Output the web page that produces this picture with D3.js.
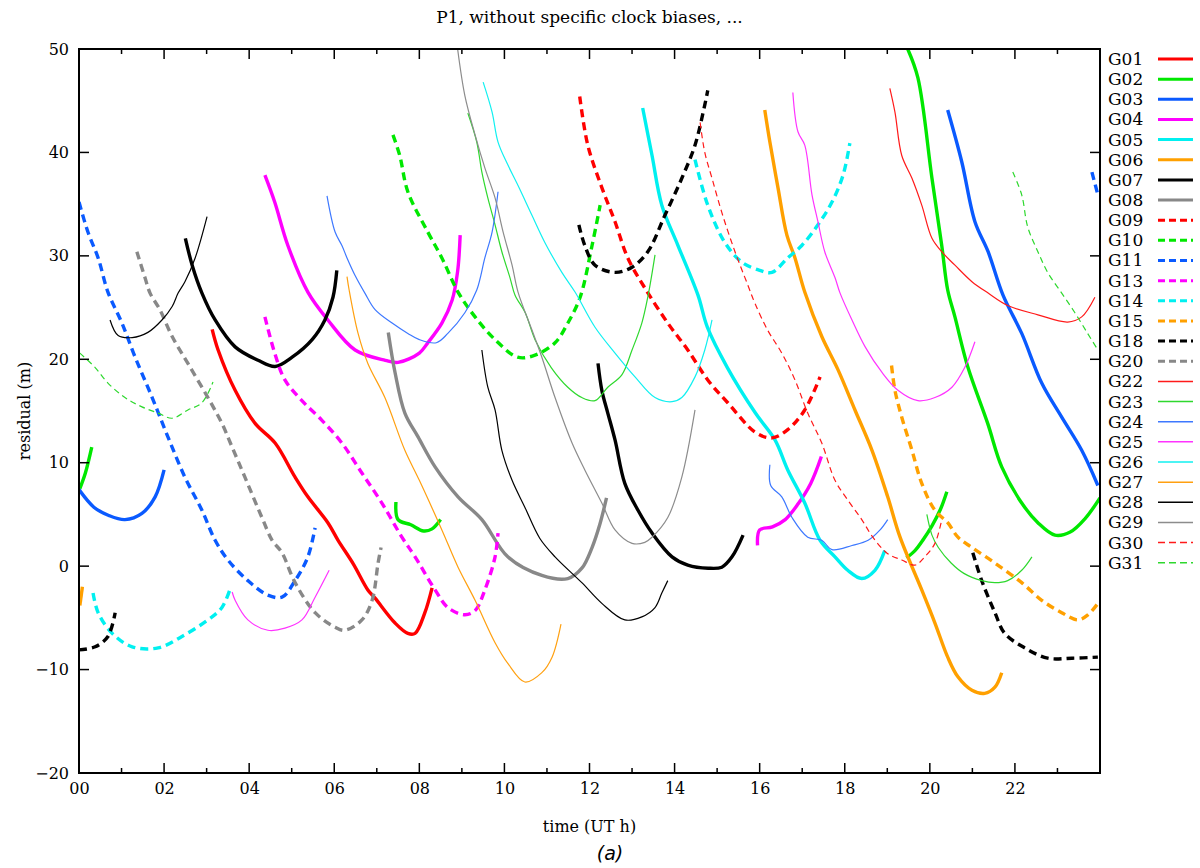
<!DOCTYPE html>
<html>
<head>
<meta charset="utf-8">
<script src="https://cdn.jsdelivr.net/npm/d3@7"></script>
<style>
  body { margin: 0; background: #fff; }
  svg { display: block; }
  text { font-family: "DejaVu Serif", serif; fill: #000; }
</style>
</head>
<body>
<div id="container"></div>
<script>
const width = 1200;
const height = 868;
const marginLeft = 79;   // plot box left edge
const marginRight = 100; // plot box ends at 1100
const marginTop = 49;
const marginBottom = 95; // plot box ends at 773

// hour of day, residual in metres; each satellite is a list of arcs
const G01 = [[[3.13,22.9],[3.27,20.9],[3.67,17.0],[4.14,13.8],[4.61,11.9],[5.08,8.6],[5.38,6.7],[5.85,4.2],[6.09,2.5],[6.45,0.2],[6.79,-2.3],[6.96,-3.1],[7.43,-5.5],[7.73,-6.5],[7.9,-6.5],[8.13,-4.5],[8.3,-2.1]]];
const G02 = [
  [[0.02,7.5],[0.15,9.0],[0.3,11.5]],
  [[7.45,6.2],[7.5,4.5],[7.8,4.0],[8.1,3.4],[8.3,3.6],[8.5,4.5]],
  [[19.48,50],[19.72,47.2],[20.05,37.5],[20.28,31.0],[20.42,26.7],[20.59,24.1],[20.89,19.3],[21.36,13.8],[21.69,9.6],[22.16,6.1],[22.54,4.2],[22.94,3.0],[23.3,3.3],[23.65,4.6],[24,6.6]],
  [[19.45,0.8],[19.65,1.5],[19.85,2.6],[20.05,3.9],[20.25,5.5],[20.4,7.2]]
];
const G03 = [
  [[0,7.4],[0.35,5.7],[0.7,4.9],[1.08,4.5],[1.48,5.1],[1.79,6.7],[2.0,9.3]],
  [[20.42,44.1],[20.75,39.1],[21.06,33.3],[21.37,30.4],[21.72,26.2],[22.16,22.5],[22.63,17.7],[23.1,14.4],[23.57,11.2],[23.95,7.8]]
];
const G04 = [
  [[4.37,37.8],[4.6,35.2],[4.91,31.0],[5.38,26.5],[5.85,23.8],[6.49,20.9],[7.2,19.9],[7.5,19.7],[8.0,20.6],[8.2,21.6],[8.53,23.5],[8.77,25.7],[8.9,28.5],[8.96,32.0]],
  [[15.95,2.0],[16.0,3.5],[16.3,3.8],[16.6,4.5],[16.9,6.0],[17.2,8.0],[17.45,10.6]]
];
const G05 = [[[13.25,44.3],[13.47,39.7],[13.7,34.9],[14.08,31.0],[14.55,26.2],[14.77,23.1],[15.24,19.2],[15.9,14.8],[16.36,12.2],[16.66,9.3],[17.06,6.1],[17.42,2.5],[17.77,0.9],[18.07,-0.4],[18.4,-1.2],[18.71,-0.4],[18.94,1.5]]];
const G06 = [
  [[0.02,-3.8],[0.08,-2.0]],
  [[16.12,44.1],[16.24,41],[16.43,36.6],[16.64,32.0],[16.83,29.8],[17.06,26.5],[17.46,22.2],[17.84,19.0],[18.24,15.1],[18.64,11.2],[19.01,6.7],[19.3,2.8],[19.81,-2.3],[20.12,-5.5],[20.42,-8.8],[20.66,-10.7],[20.99,-12],[21.29,-12.3],[21.53,-11.7],[21.69,-10.3]]
];
const G07 = [
  [[2.5,31.7],[2.66,29.1],[2.89,26.4],[3.2,23.8],[3.67,21.2],[4.21,19.9],[4.61,19.3],[5.01,20.2],[5.48,21.9],[5.78,23.8],[5.97,26.0],[6.06,28.6]],
  [[12.2,19.6],[12.29,17.0],[12.43,14.8],[12.6,12.2],[12.83,8.0],[13.14,5.4],[13.47,3.2],[13.94,0.9],[14.31,0.1],[14.79,-0.2],[15.11,-0.1],[15.35,0.9],[15.61,3.0]]
];
const G08 = [[[7.27,22.6],[7.43,18.7],[7.66,14.8],[7.97,12.5],[8.37,9.6],[8.91,6.7],[9.47,4.5],[10.08,0.9],[10.88,-0.9],[11.49,-1.2],[11.82,-0.2],[12.06,1.8],[12.24,4.0],[12.4,6.6]]];
const G09 = [[[11.77,45.4],[11.96,40.7],[12.29,36.6],[12.6,33.3],[12.9,29.8],[13.3,26.9],[13.84,23.5],[14.31,20.9],[14.78,18.0],[15.25,15.8],[15.91,12.9],[16.29,12.4],[16.66,13.2],[17.06,15.1],[17.42,18.3]]];
const G10 = [[[7.38,41.7],[7.54,39.7],[7.73,36.2],[8.2,32.3],[8.53,29.8],[8.91,26.5],[9.31,24.1],[9.78,21.9],[10.31,20.2],[10.72,20.4],[11.19,21.6],[11.49,23.5],[11.78,26.0],[12.06,31.0],[12.25,34.9]]];
const G11 = [
  [[0,35.2],[0.21,32.3],[0.45,29.8],[0.68,26.5],[1.01,23.5],[1.32,20.2],[1.72,16.3],[2.09,12.5],[2.49,8.6],[2.89,5.4],[3.2,2.5],[3.5,0.6],[3.97,-1.4],[4.44,-2.8],[4.77,-3.0],[5.08,-1.4],[5.38,0.9],[5.55,3.7]],
  [[23.81,38.1],[23.95,35.9]]
];
const G13 = [[[4.37,24.1],[4.6,20.6],[4.84,18.0],[5.24,16.0],[5.71,14.1],[6.18,11.9],[6.65,9.0],[7.12,6.1],[7.59,2.8],[7.9,0.9],[8.37,-2.3],[8.67,-4.0],[9.07,-4.7],[9.31,-4.3],[9.54,-2.3],[9.78,0.9],[9.85,3.2]]];
const G14 = [
  [[0.33,-2.6],[0.45,-4.5],[0.78,-6.5],[1.25,-7.8],[1.86,-7.9],[2.42,-6.8],[3.03,-5.2],[3.36,-4.0],[3.57,-2.0]],
  [[14.48,39.3],[14.78,34.9],[15.18,31.3],[15.58,29.4],[16.0,28.6],[16.29,28.4],[16.66,29.8],[16.99,31.0],[17.37,33.0],[17.7,35.2],[17.96,37.8],[18.12,40.9]]
];
const G15 = [[[19.1,19.4],[19.18,17.0],[19.34,14.4],[19.58,11.2],[19.81,8.0],[20.12,5.4],[20.42,4.2],[20.66,2.8],[20.99,1.8],[21.53,0.3],[22.16,-1.6],[22.63,-3.3],[23.1,-4.5],[23.48,-5.2],[23.72,-4.7],[23.95,-3.6]]];
const G18 = [
  [[0,-8.1],[0.38,-7.8],[0.68,-6.8],[0.85,-4.5]],
  [[11.75,33.0],[11.89,31.0],[12.13,29.1],[12.6,28.4],[13.0,28.9],[13.37,30.4],[13.77,33.9],[14.17,37.5],[14.48,40.7],[14.71,44.6],[14.78,46.0]],
  [[21.01,1.3],[21.22,-1.4],[21.53,-4.5],[21.76,-6.5],[22.23,-7.9],[22.77,-8.9],[23.34,-8.9],[23.95,-8.8]]
];
const G20 = [[[1.36,30.4],[1.55,27.9],[1.67,26.4],[1.9,24.8],[2.19,22.2],[2.56,19.6],[3.03,16.3],[3.36,13.8],[3.6,11.5],[3.9,8.6],[4.3,4.7],[4.54,2.5],[4.77,1.3],[5.08,-1.6],[5.55,-4.5],[6.02,-5.9],[6.25,-6.2],[6.65,-5.2],[6.89,-3.3],[7.03,0.3],[7.1,1.8]]];
const G22 = [[[19.06,46.2],[19.18,43.9],[19.34,39.7],[19.58,37.5],[19.81,34.9],[20.05,31.7],[20.28,30.4],[20.59,29.1],[20.99,27.5],[21.37,26.4],[21.83,25.2],[22.54,24.3],[23.24,23.6],[23.57,24.1],[23.88,26.0]]];
const G23 = [
  [[9.14,43.8],[9.35,41.0],[9.47,38.1],[9.61,35.6],[9.78,33.0],[9.94,30.4],[10.13,27.9],[10.25,26.2],[10.49,24.5],[10.72,21.9],[11.1,19.2],[11.49,17.3],[11.82,16.3],[12.13,16.0],[12.43,17.3],[12.76,18.5],[13.0,20.9],[13.23,23.5],[13.37,26.0],[13.54,30.1]],
  [[19.93,5.0],[20.05,3.0],[20.2,1.8],[20.5,0.3],[20.8,-0.7],[21.22,-1.4],[21.53,-1.6],[21.83,-1.4],[22.16,-0.4],[22.4,0.9]]
];
const G24 = [
  [[5.83,35.8],[6.02,32.3],[6.18,31.0],[6.3,29.8],[6.49,28.1],[6.72,26.4],[6.96,24.8],[7.36,23.5],[7.73,22.5],[8.0,21.9],[8.4,21.6],[8.67,22.5],[9.07,24.5],[9.35,26.7],[9.54,29.8],[9.71,32.3],[9.85,36.2]],
  [[16.24,9.8],[16.26,7.8],[16.52,6.7],[16.76,4.7],[17.13,2.8],[17.46,2.5],[17.7,1.6],[18.17,2.0],[18.55,2.5],[18.83,3.5],[19.01,4.5]]
];
const G25 = [
  [[3.6,-2.5],[3.67,-3.3],[3.97,-5.2],[4.44,-6.2],[4.84,-6.0],[5.24,-5.2],[5.55,-3.0],[5.88,-0.4]],
  [[16.78,45.8],[16.9,42.0],[17.06,40.7],[17.23,35.9],[17.37,33.3],[17.53,30.4],[17.77,27.9],[17.89,26.4],[18.17,23.8],[18.48,21.2],[18.88,18.7],[19.25,17.0],[19.72,16.0],[20.12,16.3],[20.52,17.3],[20.82,19.2],[21.06,21.7]]
];
const G26 = [[[9.5,46.8],[9.71,43.9],[9.85,41.0],[10.08,38.8],[10.32,36.8],[10.65,33.9],[10.95,31.3],[11.35,28.4],[11.66,26.5],[12.13,23.1],[12.6,20.6],[13.07,18.3],[13.54,16.3],[13.94,15.9],[14.17,16.3],[14.48,18.3],[14.71,20.9],[14.88,23.8]]];
const G27 = [[[6.3,28.0],[6.35,26.7],[6.56,22.5],[6.79,19.6],[7.19,16.3],[7.66,11.2],[8.0,8.3],[8.53,3.5],[8.91,-0.1],[9.31,-3.3],[9.78,-7.4],[10.08,-9.4],[10.48,-11.2],[10.88,-10.3],[11.12,-8.8],[11.33,-5.6]]];
const G28 = [
  [[0.73,23.8],[0.92,22.3],[1.25,22.1],[1.62,22.6],[1.95,23.8],[2.19,25.1],[2.33,26.4],[2.49,27.5],[2.73,29.8],[3.01,33.8]],
  [[9.47,20.9],[9.61,17.3],[9.78,15.1],[9.94,11.2],[10.18,8.3],[10.48,5.7],[10.83,2.7],[11.19,0.9],[11.82,-1.6],[12.29,-3.6],[12.83,-5.2],[13.23,-4.9],[13.54,-4.0],[13.7,-2.6],[13.84,-1.4]]
];
const G29 = [[[8.9,50],[9.07,45.5],[9.31,41.7],[9.54,38.5],[9.78,35.6],[9.97,32.3],[10.18,29.1],[10.32,26.5],[10.65,22.8],[10.88,20.2],[11.19,16.3],[11.59,11.9],[11.89,9.3],[12.29,6.1],[12.6,3.5],[13.0,2.2],[13.3,2.3],[13.47,2.8],[13.84,4.7],[14.17,8.6],[14.48,15.1]]];
const G30 = [[[14.6,42.9],[14.71,40.0],[14.88,37.5],[15.11,34.2],[15.42,30.4],[15.72,27.2],[15.89,25.4],[16.19,22.8],[16.52,20.6],[16.83,18.0],[17.13,14.8],[17.46,11.9],[17.77,8.3],[18.07,6.4],[18.4,4.5],[18.66,2.8],[19.01,1.2],[19.34,0.6],[19.65,0.1],[19.88,0.9],[20.12,2.2],[20.28,4.5]]];
const G31 = [
  [[0.02,20.6],[0.38,19.2],[0.68,17.7],[1.08,16.3],[1.48,15.4],[1.86,14.8],[2.19,14.3],[2.56,15.1],[2.89,15.8],[3.15,17.8]],
  [[21.95,38.1],[22.16,35.9],[22.3,32.8],[22.54,30.4],[22.77,28.4],[23.1,26.4],[23.41,24.5],[23.71,22.5],[23.95,20.9]]
];

const satellites = ["G01","G02","G03","G04","G05","G06","G07","G08",
  "G09","G10","G11","G13","G14","G15","G18","G20",
  "G22","G23","G24","G25","G26","G27","G28","G29","G30","G31"];
const arcsOf = [G01,G02,G03,G04,G05,G06,G07,G08,G09,G10,G11,G13,G14,G15,G18,G20,
  G22,G23,G24,G25,G26,G27,G28,G29,G30,G31];

const xTicks = [0,2,4,6,8,10,12,14,16,18,20,22];
const yTicks = [-20,-10,0,10,20,30,40,50];

// colour cycle, thick then thin variants
const thickColors = ["#ff0000","#00e800","#0a5aff","#ff00ff","#00f0f0","#ffa000","#000000","#888888"];
const thinColors  = ["#ff1a1a","#2ed82e","#3d78ff","#ff33ff","#11f0f0","#ffa010","#000000","#8c8c8c"];

function styleOf(i) {
  const thick = i < 16;
  const dashed = (i >= 8 && i < 16) || i >= 24;
  const c = thick ? thickColors[i % 8] : thinColors[(i - 16) % 8];
  return { color: c, width: thick ? 3.4 : 1.2, dash: dashed ? (thick ? "8,5" : "6,4") : null };
}

const x = d3.scaleLinear().domain([0, 24]).range([marginLeft, width - marginRight]);
const y = d3.scaleLinear().domain([-20, 50]).range([height - marginBottom, marginTop]);

const svg = d3.select("#container").append("svg")
  .attr("width", width).attr("height", height)
  .attr("viewBox", [0, 0, width, height]);

svg.append("defs").append("clipPath").attr("id", "plotClip")
  .append("rect")
  .attr("x", x(0)).attr("y", y(50))
  .attr("width", x(24) - x(0)).attr("height", y(-20) - y(50));

const line = d3.line()
  .x(d => x(d[0]))
  .y(d => y(d[1]))
  .curve(d3.curveCatmullRom.alpha(0.5));

// series
const plot = svg.append("g").attr("clip-path", "url(#plotClip)");
satellites.forEach((name, i) => {
  const s = styleOf(i);
  plot.append("g")
    .attr("class", name)
    .selectAll("path")
    .data(arcsOf[i])
    .join("path")
    .attr("d", line)
    .attr("fill", "none")
    .attr("stroke", s.color)
    .attr("stroke-width", s.width)
    .attr("stroke-dasharray", s.dash)
    .attr("stroke-linejoin", "round");
});

// frame with inward ticks on all four sides
const fmtMinus = d => d < 0 ? "\u2212" + Math.abs(d) : String(d);
const hours = d3.range(0, 25);

svg.append("g")
  .attr("transform", `translate(0,${y(-20)})`)
  .call(d3.axisBottom(x).tickValues(xTicks).tickSize(0).tickPadding(10)
    .tickFormat(d => d3.format("02d")(d)))
  .call(g => g.select(".domain").remove())
  .call(g => g.selectAll("text").attr("font-size", 16).attr("font-family", "DejaVu Serif"));

svg.append("g")
  .attr("transform", `translate(${x(0)},0)`)
  .call(d3.axisLeft(y).tickValues(yTicks).tickSize(0).tickPadding(10).tickFormat(fmtMinus))
  .call(g => g.select(".domain").remove())
  .call(g => g.selectAll("text").attr("font-size", 16).attr("font-family", "DejaVu Serif"));

const ticks = svg.append("g").attr("stroke", "#000").attr("stroke-width", 1.5);
hours.slice(1, 24).forEach(h => {
  const len = h % 2 === 0 ? 10 : 5;
  ticks.append("line").attr("x1", x(h)).attr("x2", x(h)).attr("y1", y(-20)).attr("y2", y(-20) - len);
  ticks.append("line").attr("x1", x(h)).attr("x2", x(h)).attr("y1", y(50)).attr("y2", y(50) + len);
});
yTicks.slice(1, -1).forEach(v => {
  ticks.append("line").attr("x1", x(0)).attr("x2", x(0) + 10).attr("y1", y(v)).attr("y2", y(v));
  ticks.append("line").attr("x1", x(24)).attr("x2", x(24) - 10).attr("y1", y(v)).attr("y2", y(v));
});
svg.append("rect")
  .attr("x", x(0)).attr("y", y(50))
  .attr("width", x(24) - x(0)).attr("height", y(-20) - y(50))
  .attr("fill", "none").attr("stroke", "#000").attr("stroke-width", 2);

// labels
svg.append("text")
  .attr("x", (x(0) + x(24)) / 2).attr("y", 23)
  .attr("text-anchor", "middle").attr("font-size", 17)
  .text("P1, without specific clock biases, ...");
svg.append("text")
  .attr("x", (x(0) + x(24)) / 2).attr("y", 832)
  .attr("text-anchor", "middle").attr("font-size", 16)
  .text("time (UT h)");
svg.append("text")
  .attr("transform", `translate(30,${(y(50) + y(-20)) / 2}) rotate(-90)`)
  .attr("text-anchor", "middle").attr("font-size", 16)
  .text("residual (m)");
svg.append("text")
  .attr("x", 610).attr("y", 860)
  .attr("text-anchor", "middle").attr("font-size", 19)
  .attr("font-style", "italic").style("font-family", "'DejaVu Sans', sans-serif")
  .text("(a)");

// legend
const legend = svg.append("g")
  .selectAll("g")
  .data(satellites)
  .join("g")
  .attr("transform", (d, i) => `translate(1108,${59 + i * 20.15})`);
legend.append("text")
  .attr("x", 0).attr("dy", "0.35em").attr("font-size", 17)
  .text(d => d);
legend.append("line")
  .attr("x1", 50).attr("x2", 85)
  .attr("stroke", (d, i) => styleOf(i).color)
  .attr("stroke-width", (d, i) => i < 16 ? 3 : 1.5)
  .attr("stroke-dasharray", (d, i) => styleOf(i).dash ? "7,4" : null);
</script>
</body>
</html>
